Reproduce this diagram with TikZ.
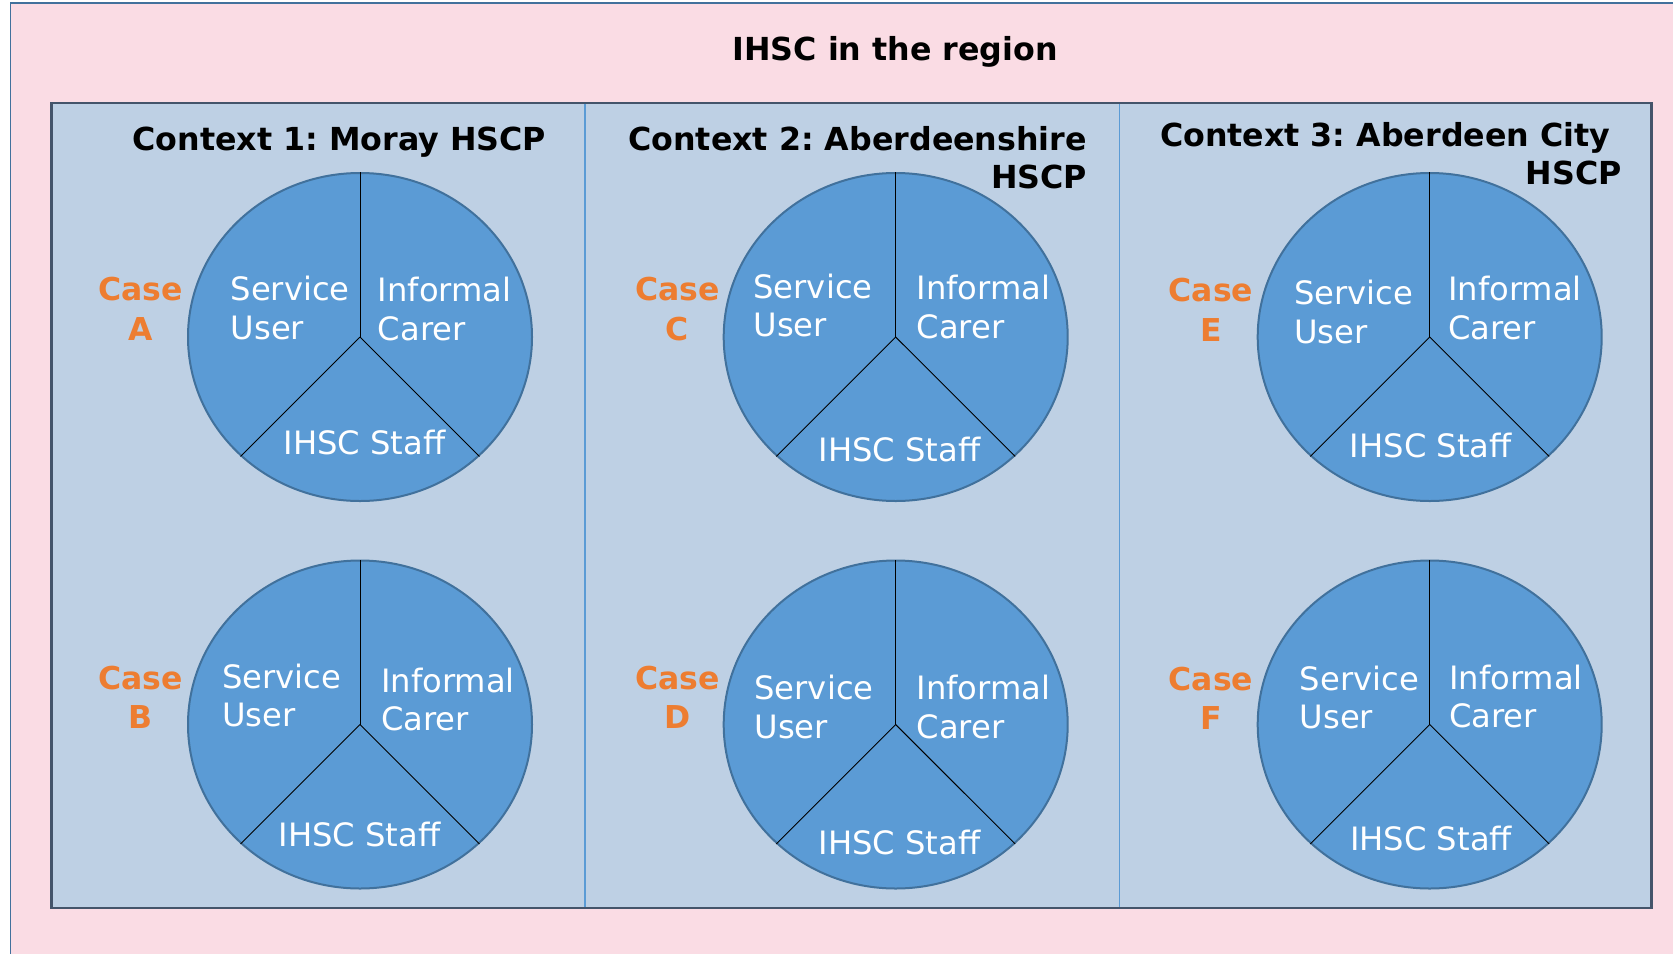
\documentclass[tikz,border=0pt]{standalone}
\usepackage{fontspec}
\setmainfont{DejaVu Sans}
\usetikzlibrary{shapes.geometric}
\frenchspacing
\definecolor{pinkbg}{RGB}{250,220,228}
\definecolor{outerline}{RGB}{65,113,156}
\definecolor{innerfill}{RGB}{190,208,228}
\definecolor{innerline}{RGB}{68,84,106}
\definecolor{divline}{RGB}{91,155,213}
\definecolor{piefill}{RGB}{91,155,213}
\definecolor{pieline}{RGB}{65,113,156}
\definecolor{caseor}{RGB}{237,125,49}
\newcommand\mypie[9]{%
  \node[pie] (#1) at (#2,#3) {};
  \draw[seg] (#1.center) -- (#1.north);
  \draw[seg] (#1.center) -- (#1.-135);
  \draw[seg] (#1.center) -- (#1.-45);
  \node[lbl,anchor=base west] (#1s1) at (#4,#5) {Service};
  \node[lbl,anchor=base west,yshift=-38.4bp] (#1s2) at (#4,#5) {User};
  \node[lbl,anchor=base west] (#1i1) at (#6,#7) {Informal};
  \node[lbl,anchor=base west,yshift=-38.4bp] (#1i2) at (#6,#7) {Carer};
  \node[lbl,anchor=base] (#1st) at (#8,#9) {IHSC Staff};
}
\newcommand\mycase[4]{%
  \node[caselbl] (c#1a) at (#2,#3) {Case};
  \node[caselbl,yshift=-39.4bp] (c#1b) at (#2,#3) {#4};
}
\begin{document}
\begin{tikzpicture}[x=1bp,y=-1bp,
  pie/.style={ellipse,draw=pieline,line width=2bp,fill=piefill,minimum width=344bp,minimum height=328bp,inner sep=0pt},
  seg/.style={draw=black,line width=1bp},
  lbl/.style={text=white,inner sep=0pt,font=\fontsize{32.2bp}{38bp}\selectfont},
  caselbl/.style={text=caseor,inner sep=0pt,anchor=base,font=\fontsize{31.5bp}{38bp}\selectfont\bfseries},
  ttl/.style={text=black,inner sep=0pt,font=\fontsize{31.7bp}{38bp}\selectfont\bfseries},
  divider/.style={draw=divline,line width=1.3bp}]
\useasboundingbox (0,0) rectangle (1673,953);
\clip (0,0) rectangle (1673,953);
\fill[white] (0,0) rectangle (1673,953);
\filldraw[fill=pinkbg,draw=outerline,line width=1.6bp] (10.3,2.7) rectangle (1720,1000);
\fill[innerfill] (51.5,103) rectangle (1651.5,908);
\draw[divider] (585,103) -- (585,908);
\draw[divider] (1119.5,103) -- (1119.5,908);
\draw[draw=innerline,line width=2.5bp] (51.5,103) rectangle (1651.5,908);
\node[ttl,anchor=base] (title) at (895.2,60) {IHSC in the region};
\node[ttl,anchor=base] (ctx1) at (339.3,150.7) {Context 1: Moray HSCP};
\node[ttl,anchor=base east] (ctx2a) at (1087.2,150.7) {Context 2: Aberdeenshire};
\node[ttl,anchor=base east] (ctx2b) at (1087.2,188) {HSCP};
\node[ttl,anchor=base west] (ctx3a) at (1159.8,146.4) {Context 3: Aberdeen City};
\node[ttl,anchor=base east] (ctx3b) at (1621.8,184.8) {HSCP};
\mypie{A}{360}{337}{230.5}{300.7}{377.7}{301.7}{364.5}{454.3}
\mypie{B}{360}{724.5}{221.9}{688}{380.9}{692.2}{359.6}{846.9}
\mypie{C}{895.7}{337}{753.3}{298.5}{916.5}{299.6}{899.5}{461.8}
\mypie{D}{895.7}{724.5}{754.3}{699.7}{916.5}{699.7}{899.5}{854.4}
\mypie{E}{1429.7}{337}{1294.2}{304.9}{1447.9}{300.6}{1430.8}{457.5}
\mypie{F}{1429.7}{724.5}{1299.6}{690.1}{1448.9}{689}{1431}{850.1}
\mycase{A}{140.8}{300.7}{A}
\mycase{B}{140.8}{689}{B}
\mycase{C}{677.5}{300.7}{C}
\mycase{D}{677.5}{689}{D}
\mycase{E}{1211}{301.7}{E}
\mycase{F}{1211}{690.1}{F}
\end{tikzpicture}
\end{document}
